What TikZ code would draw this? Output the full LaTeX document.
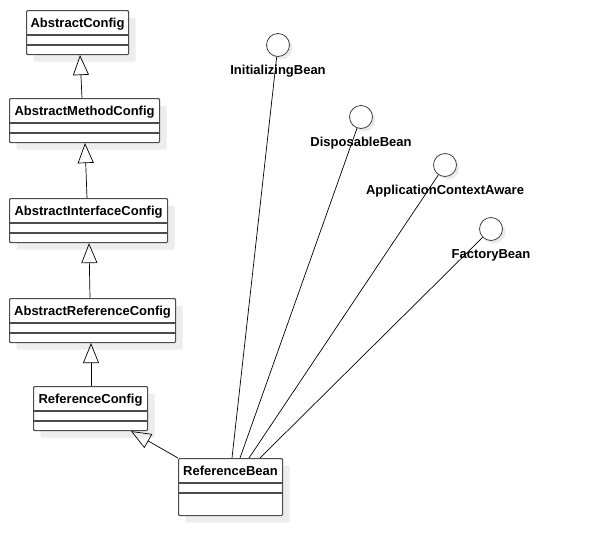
\documentclass[tikz,border=0pt]{standalone}
\usepackage{fontspec}
\setmainfont{Liberation Sans}
\usetikzlibrary{calc,arrows.meta,shadows}
\begin{document}
\begin{tikzpicture}[x=1pt,y=-1pt,
  cls/.style={draw=black!70, line width=1.1pt, fill=white, rounded corners=1pt,
    anchor=north west, inner sep=0pt,
    drop shadow={shadow xshift=7pt, shadow yshift=-7pt, fill=black!7, opacity=1}},
  sep/.style={draw=black!70, line width=1.1pt},
  lbl/.style={font=\bfseries\fontsize{13}{15}\selectfont, inner sep=0pt, anchor=base},
  ifc/.style={circle, draw=black!75, line width=0.8pt, fill=white, minimum size=23pt, inner sep=0pt,
    drop shadow={shadow xshift=3pt, shadow yshift=-3pt, fill=black!8, opacity=1}},
  gen/.style={draw=black, line width=0.7pt, -{Triangle[open, length=20pt, width=16pt, line width=0.7pt]}},
  real/.style={draw=black, line width=0.7pt}
]
\useasboundingbox (0,0) rectangle (596,555);
% classes
\node[cls, minimum width=102pt, minimum height=44pt] (ac) at (26,10) {};
\node[cls, minimum width=150pt, minimum height=44pt] (amc) at (9,98) {};
\node[cls, minimum width=158pt, minimum height=44pt] (aic) at (9,198) {};
\node[cls, minimum width=166pt, minimum height=44pt] (arc) at (9,298) {};
\node[cls, minimum width=114pt, minimum height=44pt] (rc) at (33,386) {};
\node[cls, minimum width=104pt, minimum height=57pt] (rb) at (178,458) {};
\foreach \n/\t in {ac/AbstractConfig, amc/AbstractMethodConfig, aic/AbstractInterfaceConfig,
    arc/AbstractReferenceConfig, rc/ReferenceConfig, rb/ReferenceBean}{
  \draw[sep] ($(\n.north west)+(0,25)$) -- ($(\n.north east)+(0,25)$);
  \draw[sep] ($(\n.north west)+(0,35)$) -- ($(\n.north east)+(0,35)$);
  \node[lbl] at ($(\n.north)+(0,17)$) {\t};
}
% interfaces
\node[ifc] (ib) at (278,45) {};
\node[ifc] (db) at (361,117) {};
\node[ifc] (aca) at (445,165) {};
\node[ifc] (fb) at (491,229) {};
\node[lbl] at ($(ib)+(0,29)$) {InitializingBean};
\node[lbl] at ($(db)+(0,29)$) {DisposableBean};
\node[lbl] at ($(aca)+(0,29)$) {ApplicationContextAware};
\node[lbl] at ($(fb)+(0,29)$) {FactoryBean};
% generalizations
\draw[gen] ($(amc.north west)+(73,0)$) -- ($(ac.south west)+(54,0)$);
\draw[gen] ($(aic.north west)+(78,0)$) -- ($(amc.south west)+(76,0)$);
\draw[gen] ($(arc.north west)+(81,0)$) -- ($(aic.south west)+(80,0)$);
\draw[gen] ($(rc.north west)+(58,0)$) -- ($(arc.south west)+(82,0)$);
\draw[gen] (rb.north west) -- ($(rc.south west)+(98,0)$);
% realizations
\draw[real] ($(rb.north west)+(54,0)$) -- (ib);
\draw[real] ($(rb.north west)+(62,0)$) -- (db);
\draw[real] ($(rb.north west)+(71,0)$) -- (aca);
\draw[real] ($(rb.north west)+(82,0)$) -- (fb);
\end{tikzpicture}
\end{document}
